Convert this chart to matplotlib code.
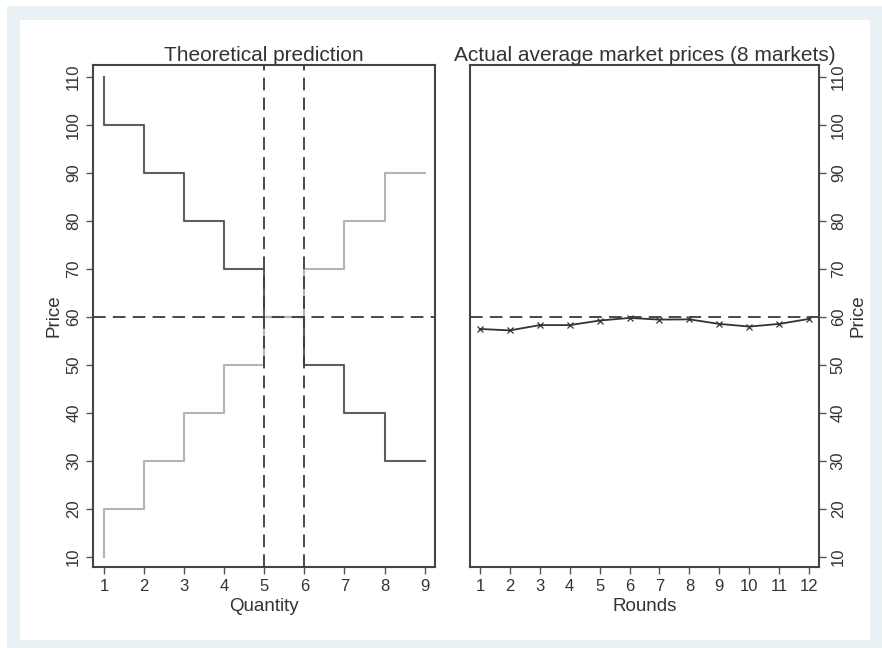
import matplotlib.pyplot as plt
import matplotlib.patches as patches

plt.rcParams['font.family'] = ['Liberation Sans', 'DejaVu Sans']

# theoretical step curves (quantity vs price)
step_q = [1, 1, 2, 3, 4, 5, 6, 7, 8, 9]
demand_p = [110, 100, 90, 80, 70, 60, 50, 40, 30, 30]
supply_p = [10, 20, 30, 40, 50, 60, 70, 80, 90, 90]
eq_q = [5, 6]
eq_p = 60

# actual average prices per round
rounds = [1, 2, 3, 4, 5, 6, 7, 8, 9, 10, 11, 12]
avg_price = [57.5, 57.2, 58.3, 58.3, 59.25, 59.8, 59.45, 59.5, 58.55, 58.0, 58.55, 59.6]

yticks = [10, 20, 30, 40, 50, 60, 70, 80, 90, 100, 110]

fig = plt.figure(figsize=(8.82, 6.48), dpi=100)
fig.patches.append(patches.Rectangle((7/882, 0), 875/882, 642/648, transform=fig.transFigure,
                                     facecolor='#e9f1f4', edgecolor='none', zorder=-2))
fig.patches.append(patches.Rectangle((20/882, 8/648), 850/882, 620/648, transform=fig.transFigure,
                                     facecolor='white', edgecolor='none', zorder=-1))

ax1 = fig.add_axes([93/882, 81/648, 342/882, 502/648])
ax2 = fig.add_axes([470/882, 81/648, 349/882, 502/648])

dark = '#3a3a3a'
txt = '#333333'

ax1.step(step_q, demand_p, where='post', color='#5e5e5e', lw=1.5)
ax1.step(step_q, supply_p, where='post', color='#b4b4b4', lw=1.5)
for q in eq_q:
    ax1.axvline(q, color=dark, lw=1.3, ls=(0, (7, 4)))
ax1.axhline(eq_p, color=dark, lw=1.3, ls=(0, (7, 4)))
ax1.set_xlim(0.72, 9.26)
ax1.set_xticks(range(1, 10))
ax1.set_title('Theoretical prediction', fontsize=15, color=txt, pad=2)
ax1.set_xlabel('Quantity', fontsize=13.5, color=txt, labelpad=3)
ax1.set_ylabel('Price', fontsize=13.5, color=txt, labelpad=3)

ax2.plot(rounds, avg_price, color='#333333', lw=1.3, marker='x', ms=5, mew=0.9)
ax2.axhline(eq_p, color=dark, lw=1.3, ls=(0, (7, 4)))
ax2.set_xlim(0.67, 12.33)
ax2.set_xticks(rounds)
ax2.set_title('Actual average market prices (8 markets)', fontsize=15, color=txt, pad=2)
ax2.set_xlabel('Rounds', fontsize=13.5, color=txt, labelpad=3)
ax2.yaxis.tick_right()
ax2.yaxis.set_label_position('right')
ax2.set_ylabel('Price', fontsize=13.5, color=txt, labelpad=3, rotation=90)

for ax in (ax1, ax2):
    ax.set_ylim(7.9, 112.5)
    ax.set_yticks(yticks)
    for lbl in ax.get_yticklabels():
        lbl.set_rotation(90)
        lbl.set_va('center')
    ax.tick_params(colors='#555555', labelcolor=txt, labelsize=12, length=5, width=1)
    for s in ax.spines.values():
        s.set_color('#444444')
        s.set_linewidth(1.5)

fig.savefig('out.png', dpi=100)
